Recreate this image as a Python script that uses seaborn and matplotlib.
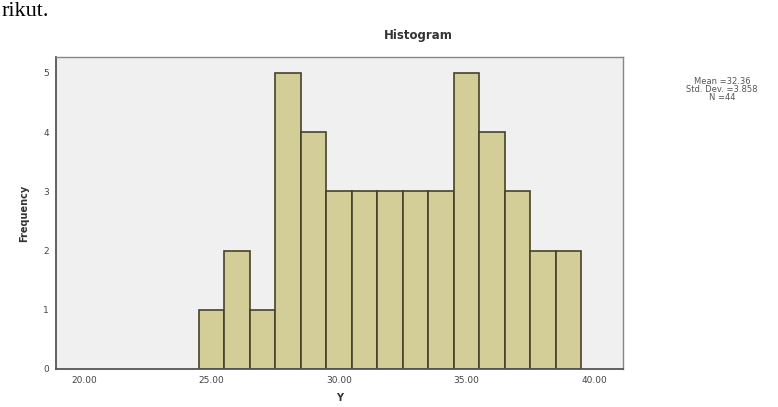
import numpy as np
import pandas as pd
import matplotlib
matplotlib.use('Agg')
import matplotlib.pyplot as plt
import seaborn as sns

# Values (bin centres and counts)
y_values = [25, 26, 27, 28, 29, 30, 31, 32, 33, 34, 35, 36, 37, 38, 39]
frequency = [1, 2, 1, 5, 4, 3, 3, 3, 3, 3, 5, 4, 3, 2, 2]
x_ticks = [20, 25, 30, 35, 40]
x_tick_labels = ['20.00', '25.00', '30.00', '35.00', '40.00']
y_ticks = [0, 1, 2, 3, 4, 5]
stats_lines = ['Mean =32.36', 'Std. Dev. =3.858', 'N =44']

data = pd.DataFrame({'Y': y_values, 'Frequency': frequency})

sns.set_style('white')
plt.rcParams['font.family'] = ['DejaVu Sans']

fig = plt.figure(figsize=(7.78, 4.07), dpi=100)
ax = fig.add_axes([0.072, 0.0934, 0.7288, 0.7666])
ax.set_facecolor('#f0f0f0')

sns.histplot(data=data, x='Y', weights='Frequency', binwidth=1,
             binrange=(24.5, 39.5), color='#d3ce98', alpha=1,
             edgecolor='#46422a', linewidth=1.2, ax=ax)

ax.set_xlim(18.9, 41.14)
ax.set_ylim(0, 5.27)
ax.set_xticks(x_ticks)
ax.set_xticklabels(x_tick_labels)
ax.set_yticks(y_ticks)
ax.tick_params(axis='both', direction='out', length=3, width=0.8,
               colors='#555555', labelsize=6.5, labelcolor='#444444', pad=2)

for side in ['left', 'bottom']:
    ax.spines[side].set_color('#555555')
    ax.spines[side].set_linewidth(1.3)
for side in ['top', 'right']:
    ax.spines[side].set_color('#888888')
    ax.spines[side].set_linewidth(1.0)

ax.set_xlabel('Y', fontsize=7, fontweight='bold', color='#333333', labelpad=6)
ax.set_ylabel('Frequency', fontsize=7, fontweight='bold', color='#333333', labelpad=10)

fig.text(418 / 778, 1 - 35 / 407, 'Histogram', ha='center', va='center',
         fontsize=8.5, fontweight='bold', color='#333333')

for i, line in enumerate(stats_lines):
    fig.text(722 / 778, 1 - (81 + 8 * i) / 407, line, ha='center', va='center',
             fontsize=6, color='#555555')

# document text left over above the chart
fig.text(0.002, 1 - 16 / 407, 'rikut.', ha='left', va='baseline',
         fontsize=16, family='Liberation Serif', color='black')

fig.savefig('out.png', dpi=100, facecolor='white')
